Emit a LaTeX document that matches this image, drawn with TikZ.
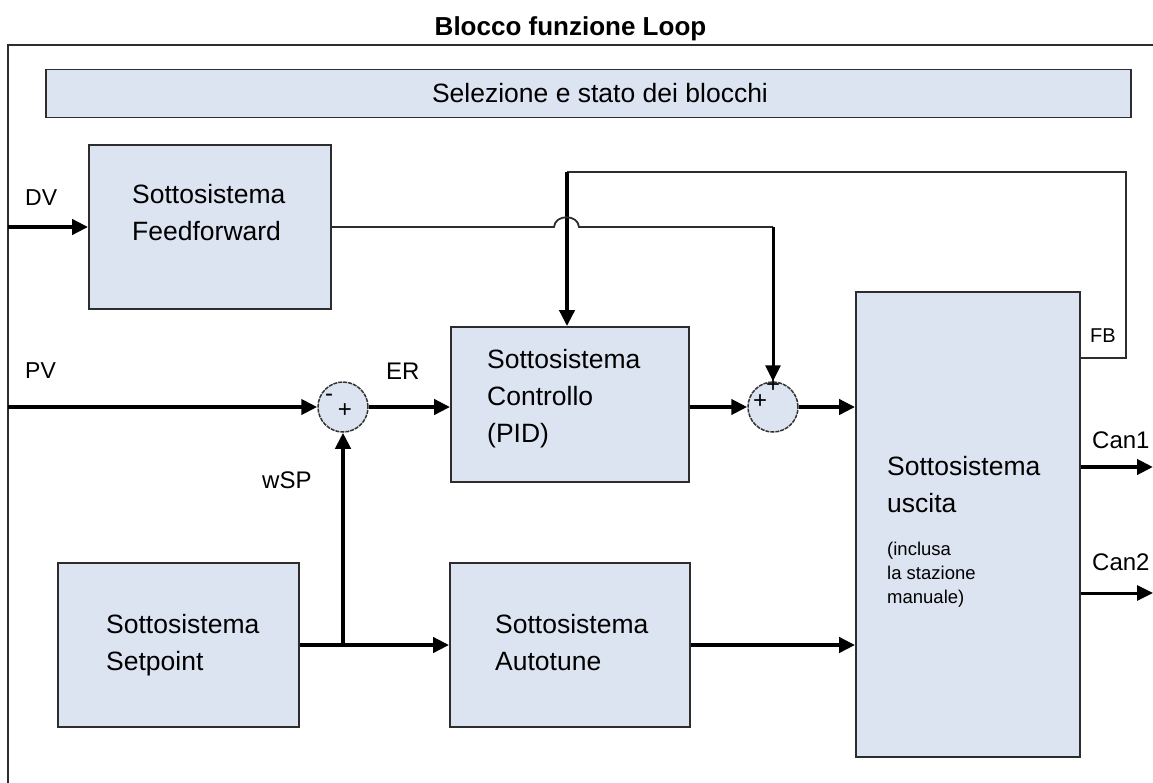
\documentclass[tikz,border=0pt]{standalone}
\usepackage{fontspec}
\setmainfont{Liberation Sans}
\usetikzlibrary{arrows.meta}
\definecolor{boxfill}{RGB}{219,228,240}
\definecolor{boxline}{RGB}{45,45,45}
\definecolor{sumline}{RGB}{50,50,50}
\begin{document}
\begin{tikzpicture}[x=1pt,y=-1pt,
  box/.style={draw=boxline,fill=boxfill,line width=1.8pt,inner sep=0pt},
  sumc/.style={circle,draw=sumline,fill=boxfill,line width=1.5pt,dash pattern=on 4pt off 1pt,minimum size=50pt,inner sep=0pt},
  txt/.style={anchor=base west,inner sep=0pt,font=\fontsize{26.5}{30}\selectfont},
  lbl/.style={anchor=base west,inner sep=0pt,font=\fontsize{24}{28}\selectfont},
  note/.style={anchor=base west,inner sep=0pt,font=\fontsize{18.5}{22}\selectfont},
  sign/.style={inner sep=0pt,font=\fontsize{24}{26}\selectfont},
  tip/.style={-{Triangle[length=16pt,width=15pt]}},
  thk/.style={line width=4.5pt,tip},
  med/.style={line width=3pt,tip},
  wire/.style={line width=1.8pt,draw=boxline}
]
\useasboundingbox (0,0) rectangle (1153,782);

% frame and title
\draw[wire] (1160,45) -- (8,45) -- (8,790);
\node[anchor=base,inner sep=0pt,font=\bfseries\fontsize{26}{30}\selectfont] (title) at (570.5,35) {Blocco funzione Loop};

% status bar
\node[box,minimum width=1085pt,minimum height=48pt] (bar) at (588.5,93.5) {};
\node[txt,anchor=base] (bartxt) at (600,102) {Selezione e stato dei blocchi};

% blocks
\node[box,minimum width=242pt,minimum height=164pt] (ff) at (210,227) {};
\node[box,minimum width=238pt,minimum height=155pt] (pid) at (570,404.5) {};
\node[box,minimum width=241pt,minimum height=164pt] (sp) at (178.5,645) {};
\node[box,minimum width=240pt,minimum height=164pt] (at) at (570,645) {};
\node[box,minimum width=224pt,minimum height=465pt] (us) at (968,524.5) {};

% summing junctions
\node[sumc] (c1) at (343,407) {};
\node[sumc] (c2) at (773,407) {};

% block texts
\node[txt] (fft1) at (132,203) {Sottosistema};
\node[txt] (fft2) at (132,240) {Feedforward};
\node[txt] (pidt1) at (487,368) {Sottosistema};
\node[txt] (pidt2) at (487,405) {Controllo};
\node[txt] (pidt3) at (487,442) {(PID)};
\node[txt] (spt1) at (106,633) {Sottosistema};
\node[txt] (spt2) at (106,670) {Setpoint};
\node[txt] (att1) at (495,633) {Sottosistema};
\node[txt] (att2) at (495,670) {Autotune};
\node[txt] (ust1) at (887,475) {Sottosistema};
\node[txt] (ust2) at (887,512) {uscita};
\node[note] (usn1) at (887,555) {(inclusa};
\node[note] (usn2) at (887,579) {la stazione};
\node[note] (usn3) at (887,603) {manuale)};

% signal labels
\node[lbl,font=\fontsize{23}{28}\selectfont] (dv) at (25,205) {DV};
\node[lbl,font=\fontsize{23}{28}\selectfont] (pv) at (25,378) {PV};
\node[lbl] (er) at (386,379) {ER};
\node[lbl] (wsp) at (262,488) {wSP};
\node[lbl,font=\fontsize{20}{24}\selectfont] (fb) at (1090,342) {FB};
\node[lbl] (can1t) at (1092,448) {Can1};
\node[lbl] (can2t) at (1092,570) {Can2};

% signs
\node[sign] (s1m) at (329,398) {-};
\node[sign] (s1p) at (345,411) {+};
\node[sign] (s2t) at (773,386) {+};
\node[sign] (s2l) at (760,402) {+};

% coordinates
\coordinate (dvin) at (8,227);
\coordinate (pvin) at (8,407);
\coordinate (fbtop) at (567,172);
\coordinate (fbr) at (1126,172);
\coordinate (fbout) at (1080,358);
\coordinate (hop1) at (554,227);
\coordinate (hop2) at (579,227);
\coordinate (ffc) at (773,227);
\coordinate (can1) at (1153,467);
\coordinate (can2) at (1153,593);

% connectors
\draw[thk] (dvin) -- (ff.west);
\draw[thk] (pvin) -- (c1.west);
\draw[thk] (c1.east) -- (c1.east -| pid.west);
\draw[thk] (c2.west -| pid.east) -- (c2.west);
\draw[thk] (c2.east) -- (c2.east -| us.west);
\draw[thk] (sp.east) -- (at.west);
\draw[thk] (c1.south |- sp.east) -- (c1.south);
\draw[thk] (at.east) -- (at.east -| us.west);
\draw[wire] (fbout) -| (fbr) -- (fbtop);
\draw[thk] (fbtop) -- (fbtop |- pid.north);
\draw[wire] (ff.east) -- (hop1) .. controls (555,214) and (578,214) .. (hop2) -- (ffc);
\draw[med] (ffc) -- (c2.north);
\draw[thk] (can1 -| us.east) -- (can1);
\draw[med] (can2 -| us.east) -- (can2);
\end{tikzpicture}
\end{document}
